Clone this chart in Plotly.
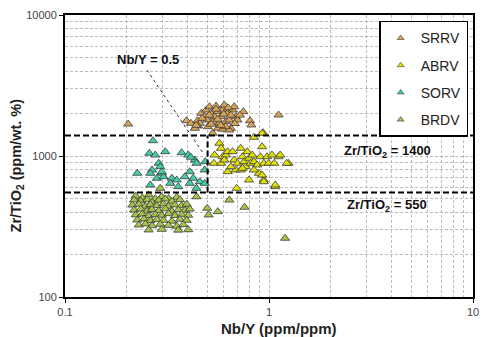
import math
import plotly.graph_objects as go

# ---------------- data (Nb/Y, Zr/TiO2) ----------------
srrv_x = [0.394, 0.414, 0.446, 0.458, 0.449, 0.466, 0.484, 0.492, 0.498, 0.511, 0.520, 0.530,
          0.541, 0.550, 0.561, 0.571, 0.582, 0.593, 0.604, 0.615, 0.627, 0.639, 0.650, 0.663,
          0.675, 0.687, 0.700, 0.749, 0.807, 0.819, 0.935, 1.114, 0.530, 0.561, 0.593, 0.639,
          0.433, 0.502, 0.613, 0.204, 0.47, 0.52, 0.56, 0.60, 0.65, 0.55, 0.58, 0.68, 0.72,
          0.51, 0.63, 0.44]
srrv_y = [1780, 1706, 1780, 1706, 1633, 2009, 1900, 2120, 1800, 2237, 2009, 1751,
          1900, 2263, 2062, 1706, 1900, 2120, 2300, 1751, 2009, 1800, 1572, 2120,
          2237, 1900, 1800, 2062, 1780, 1660, 1463, 1954, 1449, 1572, 1547, 1528,
          1572, 1614, 1614, 1686, 1850, 1680, 1820, 1980, 1950, 2150, 1650, 1700, 1950,
          1950, 2200, 1650]

abrv_x = [0.844, 0.925, 0.571, 0.582, 0.541, 0.537, 0.582, 0.593, 0.615, 0.627, 0.663, 0.675,
          0.700, 0.687, 0.727, 0.741, 0.755, 0.768, 0.783, 0.798, 0.812, 0.828, 0.844, 0.875,
          0.892, 0.908, 0.925, 0.943, 0.978, 0.997, 1.034, 1.061, 1.114, 1.245, 0.798, 0.943,
          1.073, 0.695, 0.727, 0.844, 0.627, 0.650, 0.604, 1.134, 1.222, 0.925, 0.943, 1.073,
          0.741]
abrv_y = [1357, 1449, 1231, 1134, 1016, 888, 888, 988, 1016, 1073, 1073, 937,
          888, 796, 1134, 988, 911, 840, 1073, 963, 888, 1016, 911, 864,
          754, 988, 1164, 888, 988, 888, 1016, 888, 988, 888, 676, 676,
          606, 590, 796, 796, 774, 840, 937, 1016, 888, 733, 657, 623,
          818]

sorv_x = [0.270, 0.259, 0.277, 0.310, 0.373, 0.402, 0.433, 0.487, 0.288, 0.293, 0.267, 0.226,
          0.262, 0.298, 0.282, 0.304, 0.334, 0.353, 0.387, 0.409, 0.425, 0.458, 0.484, 0.409,
          0.328, 0.262, 0.441, 0.359, 0.484, 0.298, 0.441, 0.414]
sorv_y = [1284, 1045, 1016, 1073, 1055, 1016, 937, 911, 888, 840, 796, 754,
          754, 754, 695, 713, 695, 676, 713, 774, 695, 657, 640, 640,
          640, 623, 590, 606, 796, 774, 888, 980]

brdv_x = [0.222, 0.239, 0.257, 0.277, 0.298, 0.322, 0.353,
          0.218, 0.235, 0.253, 0.267, 0.288, 0.310, 0.334, 0.366,
          0.214, 0.230, 0.248, 0.262, 0.282, 0.304, 0.322, 0.346, 0.373, 0.395,
          0.218, 0.235, 0.253, 0.267, 0.288, 0.310, 0.334, 0.359, 0.387, 0.409,
          0.222, 0.239, 0.257, 0.277, 0.298, 0.322, 0.346, 0.373, 0.402,
          0.226, 0.244, 0.262, 0.282, 0.304, 0.334, 0.366, 0.395,
          0.230, 0.248, 0.267, 0.293, 0.322, 0.353, 0.380,
          0.257, 0.298, 0.359, 0.402,
          0.441, 0.498, 0.561, 0.506, 0.639, 0.759, 1.199, 0.293]
brdv_y = [520, 505, 530, 498, 515, 500, 510,
          487, 480, 492, 470, 485, 495, 478, 490,
          449, 455, 440, 452, 445, 458, 440, 450, 444, 455,
          414, 420, 408, 418, 410, 422, 405, 416, 412, 420,
          382, 388, 376, 385, 380, 390, 378, 386, 380,
          352, 358, 348, 355, 350, 345, 356, 350,
          324, 330, 320, 328, 322, 318, 326,
          299, 302, 298, 300,
          514, 426, 403, 382, 487, 433, 261, 590]

series = [
    ("SRRV", srrv_x, srrv_y, "#D8A458"),
    ("ABRV", abrv_x, abrv_y, "#E2E000"),
    ("SORV", sorv_x, sorv_y, "#44CDA8"),
    ("BRDV", brdv_x, brdv_y, "#A6C44A"),
]

zr_ti_hi = 1400
zr_ti_lo = 550
nb_y_cut = 0.5

FONT = "Arial, Liberation Sans, sans-serif"
L = math.log10

fig = go.Figure()
for name, xs, ys, col in series:
    fig.add_trace(go.Scatter(
        x=xs, y=ys, mode="markers", name=name, legendgroup=name, showlegend=False,
        marker=dict(symbol="triangle-up", size=8, color=col,
                    line=dict(color="#3a3a3a", width=0.8)),
    ))
# legend entries (small symbols, as in the reference legend)
for name, xs, ys, col in series:
    fig.add_trace(go.Scatter(
        x=[None], y=[None], mode="markers", name=name, legendgroup=name,
        marker=dict(symbol="triangle-up", size=6, color=col,
                    line=dict(color="#3a3a3a", width=0.6)),
    ))

DASH = "6px,3px"
# reference lines
fig.add_shape(type="line", xref="paper", yref="y", x0=0, x1=1, y0=zr_ti_hi, y1=zr_ti_hi,
              line=dict(color="black", width=2, dash=DASH))
fig.add_shape(type="line", xref="paper", yref="y", x0=0, x1=1, y0=zr_ti_lo, y1=zr_ti_lo,
              line=dict(color="black", width=2, dash=DASH))
fig.add_shape(type="line", xref="x", yref="y", x0=nb_y_cut, x1=nb_y_cut, y0=zr_ti_lo, y1=zr_ti_hi,
              line=dict(color="black", width=2, dash=DASH))
# leader line for Nb/Y label
fig.add_shape(type="line", xref="x", yref="y", x0=0.252, y0=4074, x1=0.475, y1=1050,
              line=dict(color="#333", width=1, dash="dot"))

fig.add_annotation(x=L(0.2546), y=L(4797), xref="x", yref="y", text="<b>Nb/Y = 0.5</b>",
                   showarrow=False, font=dict(family=FONT, size=13, color="#111"))
fig.add_annotation(x=L(3.80), y=L(1073), xref="x", yref="y", text="<b>Zr/TiO<sub>2</sub> = 1400</b>",
                   showarrow=False, font=dict(family=FONT, size=13, color="#111"))
fig.add_annotation(x=L(3.77), y=L(449), xref="x", yref="y", text="<b>Zr/TiO<sub>2</sub> = 550</b>",
                   showarrow=False, font=dict(family=FONT, size=13, color="#111"))
# axis titles (placed as in the reference)
fig.add_annotation(x=0.524, y=-0.113, xref="paper", yref="paper", text="<b>Nb/Y (ppm/ppm)</b>",
                   showarrow=False, yanchor="middle",
                   font=dict(family=FONT, size=15, color="#222"))
fig.add_annotation(x=-0.118, y=0.466, xref="paper", yref="paper",
                   text="<b>Zr/TiO<sub>2</sub> (ppm/wt. %)</b>", textangle=-90,
                   showarrow=False, xanchor="center", yanchor="middle",
                   font=dict(family=FONT, size=14.5, color="#222"))

GRID = "#bdbdbd"
axis_common = dict(
    type="log", showline=True, linecolor="black", linewidth=2, mirror=True,
    ticks="outside", ticklen=4, tickcolor="black", tickwidth=1,
    showgrid=True, gridcolor=GRID, griddash="3px,2px", gridwidth=1,
    zeroline=False,
    tickfont=dict(family=FONT, size=11, color="#444"),
    minor=dict(dtick="D1", showgrid=True, gridcolor=GRID, griddash="3px,2px", gridwidth=1,
               ticks=""),
)

fig.update_layout(
    width=486, height=337,
    margin=dict(l=65, r=7, t=15, b=40),
    paper_bgcolor="white", plot_bgcolor="white",
    font=dict(family=FONT),
    xaxis=dict(axis_common, range=[-1, 1], tickvals=[0.1, 1, 10], ticktext=["0.1", "1", "10"]),
    yaxis=dict(axis_common, range=[2, 4], tickvals=[100, 1000, 10000],
               ticktext=["100", "1000", "10000"]),
    showlegend=True,
    legend=dict(x=0.77, y=0.979, xanchor="left", yanchor="top",
                bordercolor="black", borderwidth=1.5, bgcolor="white",
                font=dict(family=FONT, size=14, color="#222"),
                tracegroupgap=6, itemwidth=30),
)

fig.write_html("out.html")
